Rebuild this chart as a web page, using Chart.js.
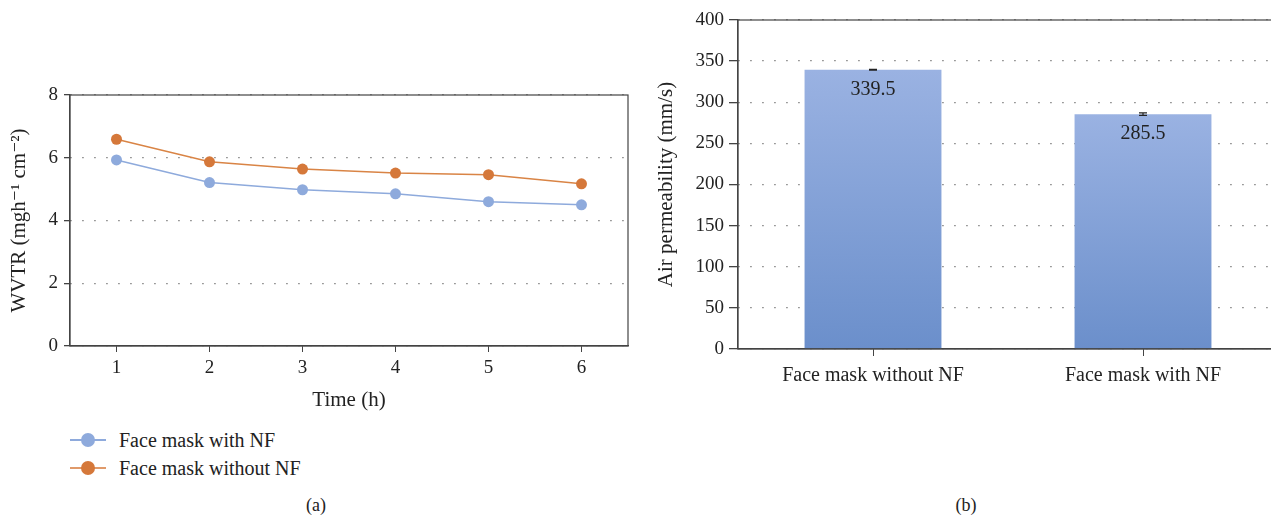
<!DOCTYPE html>
<html>
<head>
<meta charset="utf-8">
<script src="https://cdn.jsdelivr.net/npm/chart.js@4"></script>
<style>
    body { margin: 0; width: 1271px; height: 517px; overflow: hidden; background: #fff;
           font-family: 'Liberation Serif', 'DejaVu Serif', serif; color: #222; }
    .box { position: absolute; top: 0; }
    .legend { position: absolute; left: 70px; font-size: 20px; line-height: 22px; }
    .legend .mk { position: absolute; left: 0; top: 10px; width: 36px; height: 2px; }
    .legend .dot { position: absolute; left: 11px; top: -6px; width: 14px; height: 14px; border-radius: 50%; }
    .legend .txt { position: absolute; left: 49px; top: 0; white-space: nowrap; }
    .cap { position: absolute; top: 495px; font-size: 18px; width: 40px; text-align: center; }
</style>
</head>
<body>
<div class="box" style="left:0"><canvas id="wvtr" width="640" height="420"></canvas></div>
<div class="box" style="left:640px"><canvas id="air" width="640" height="420"></canvas></div>

<div class="legend" style="top:429px"><span class="mk" style="background:#8eaadc"><span class="dot" style="background:#8eaadc"></span></span><span class="txt">Face mask with NF</span></div>
<div class="legend" style="top:457px"><span class="mk" style="background:#e09a6a"><span class="dot" style="background:#d5783a"></span></span><span class="txt">Face mask without NF</span></div>
<div class="cap" style="left:296px">(a)</div>
<div class="cap" style="left:946px">(b)</div>

<script>
const hours = ['1', '2', '3', '4', '5', '6']
const withNF = [5.93, 5.21, 4.98, 4.85, 4.60, 4.50]
const withoutNF = [6.59, 5.87, 5.64, 5.51, 5.46, 5.17]
const wvtrTicks = [0, 2, 4, 6, 8]

const masks = ['Face mask without NF', 'Face mask with NF']
const airPerm = [339.5, 285.5]
const airErr = [0.6, 1.5]
const airTicks = [0, 50, 100, 150, 200, 250, 300, 350, 400]

const FONT = "'Liberation Serif', 'DejaVu Serif', serif"
Chart.defaults.font.family = FONT
Chart.defaults.font.size = 19
Chart.defaults.color = '#222'

const AXIS = '#444'
const DOTS = '#808080'

// box round the plot area
const frame = {
    id: 'frame',
    afterDraw(chart) {
        const a = chart.chartArea
        const ctx = chart.ctx
        ctx.save()
        ctx.strokeStyle = AXIS
        ctx.lineWidth = 1.2
        ctx.strokeRect(a.left, a.top, a.right - a.left, a.bottom - a.top)
        ctx.restore()
    }
}

// error bars and value labels for the bar chart
const barExtras = {
    id: 'barExtras',
    afterDatasetsDraw(chart) {
        const ctx = chart.ctx
        const y = chart.scales.y
        chart.getDatasetMeta(0).data.forEach((bar, i) => {
            const v = airPerm[i]
            const hi = y.getPixelForValue(v + airErr[i])
            const lo = y.getPixelForValue(v - airErr[i])
            ctx.save()
            ctx.strokeStyle = '#222'
            ctx.lineWidth = 1.2
            ctx.beginPath()
            ctx.moveTo(bar.x, hi); ctx.lineTo(bar.x, lo)
            ctx.moveTo(bar.x - 4, hi); ctx.lineTo(bar.x + 4, hi)
            ctx.moveTo(bar.x - 4, lo); ctx.lineTo(bar.x + 4, lo)
            ctx.stroke()
            ctx.fillStyle = '#222'
            ctx.font = '20px ' + FONT
            ctx.textAlign = 'center'
            ctx.textBaseline = 'middle'
            ctx.fillText(v.toFixed(1), bar.x, bar.y + 20)
            ctx.restore()
        })
    }
}

function createChart(ctx, type, data, options, plugins) {
    return new Chart(ctx, {
        type: type,
        data: data,
        options: Object.assign({ responsive: false, animation: false }, options),
        plugins: plugins
    })
}

createChart(
    document.getElementById('wvtr').getContext('2d'),
    'line',
    {
        labels: hours,
        datasets: [{
            label: 'Face mask with NF',
            data: withNF,
            borderColor: '#8eaadc',
            backgroundColor: '#8eaadc',
            pointBackgroundColor: '#8eaadc',
            borderWidth: 1.5,
            pointRadius: 5.5,
            pointBorderWidth: 0
        }, {
            label: 'Face mask without NF',
            data: withoutNF,
            borderColor: '#d98445',
            backgroundColor: '#d5783a',
            pointBackgroundColor: '#d5783a',
            borderWidth: 1.5,
            pointRadius: 5.5,
            pointBorderWidth: 0
        }]
    },
    {
        layout: { padding: { left: 3, top: 95, right: 12, bottom: 3 } },
        plugins: { legend: { display: false }, tooltip: { enabled: false } },
        scales: {
            x: {
                offset: true,
                grid: { offset: false, drawOnChartArea: false, tickLength: 6, tickColor: AXIS },
                border: { color: AXIS, width: 1.2 },
                ticks: { padding: 5 },
                title: { display: true, text: 'Time (h)', font: { size: 21 } },
                afterFit: s => { s.height = 71 }
            },
            y: {
                min: 0,
                max: 8,
                afterBuildTicks: s => { s.ticks = wvtrTicks.map(v => ({ value: v })) },
                grid: { color: DOTS, lineWidth: 1.3, tickLength: 6, tickColor: AXIS },
                border: { color: AXIS, width: 1.2, dash: [1.5, 10.5] },
                ticks: { padding: 6 },
                title: { display: true, text: 'WVTR (mgh\u207B\u00B9 cm\u207B\u00B2)', font: { size: 21 } },
                afterFit: s => { s.width = 67 }
            }
        }
    },
    [frame]
)

createChart(
    document.getElementById('air').getContext('2d'),
    'bar',
    {
        labels: masks,
        datasets: [{
            label: 'Air permeability',
            data: airPerm,
            backgroundColor: c => {
                const chart = c.chart
                const a = chart.chartArea
                if (!a || c.dataIndex === undefined) return '#829fd6'
                const top = chart.scales.y.getPixelForValue(airPerm[c.dataIndex])
                const g = chart.ctx.createLinearGradient(0, top, 0, a.bottom)
                g.addColorStop(0, '#9ab2e2')
                g.addColorStop(1, '#6b8fcb')
                return g
            },
            barPercentage: 0.507,
            categoryPercentage: 1
        }]
    },
    {
        layout: { padding: { left: 10, top: 20, right: 2, bottom: 0 } },
        plugins: { legend: { display: false }, tooltip: { enabled: false } },
        scales: {
            x: {
                grid: { offset: false, drawOnChartArea: false, tickLength: 7, tickColor: AXIS },
                border: { color: AXIS, width: 1.2 },
                ticks: { padding: 8, font: { size: 20 } },
                afterFit: s => { s.height = 71 }
            },
            y: {
                min: 0,
                max: 400,
                afterBuildTicks: s => { s.ticks = airTicks.map(v => ({ value: v })) },
                grid: { color: DOTS, lineWidth: 1.3, tickLength: 9, tickColor: AXIS },
                border: { color: AXIS, width: 1.2, dash: [1.5, 10.5] },
                ticks: { padding: 5 },
                title: { display: true, text: 'Air permeability (mm/s)', font: { size: 21 } },
                afterFit: s => { s.width = 88 }
            }
        }
    },
    [frame, barExtras]
)
</script>
</body>
</html>
